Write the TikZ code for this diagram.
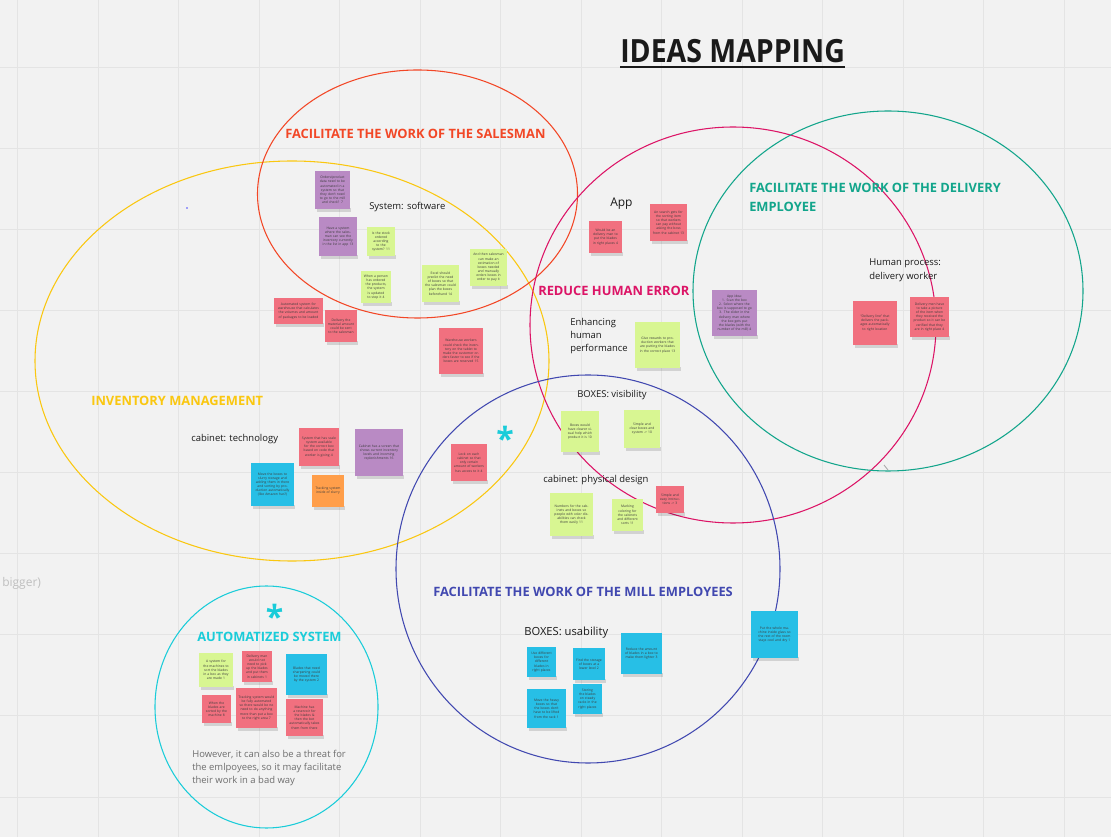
\documentclass[tikz,border=0pt]{standalone}
\usepackage{fontspec}
\setmainfont{Open Sans}
\usepackage{graphicx}
\usetikzlibrary{calc}
\definecolor{bg}{HTML}{F2F2F2}
\definecolor{gridc}{HTML}{E4E4E4}
\definecolor{ink}{HTML}{1A1A1A}
\definecolor{grayt}{HTML}{6E6E6E}
\definecolor{cred}{HTML}{F24726}
\definecolor{cyel}{HTML}{FAC710}
\definecolor{cmag}{HTML}{DC1466}
\definecolor{cteal}{HTML}{12A58B}
\definecolor{cblue}{HTML}{4148B0}
\definecolor{ccyan}{HTML}{1ACCD9}
\definecolor{spur}{HTML}{B98AC4}
\definecolor{sgrn}{HTML}{D8F692}
\definecolor{spnk}{HTML}{F1707F}
\definecolor{scyn}{HTML}{27BFE6}
\definecolor{sorg}{HTML}{FF9E4A}
\tikzset{
  ring/.style={line width=0.8pt},
  lbl/.style={font=\fontsize{9.65}{11}\selectfont\bfseries, inner sep=0pt, anchor=base west},
  body/.style={font=\fontsize{7.1}{9}\selectfont, text=ink, inner sep=0pt, anchor=base west},
  stxt/.style={font=\fontsize{2.5}{3.1}\selectfont, text=ink!85, align=center, inner sep=0pt},
  shade/.style={fill=black, opacity=0.13},
  astx/.style={inner sep=0pt, anchor=north, text=ccyan, font=\fontsize{24}{26}\selectfont\bfseries},
}
\newcommand\stk[7]{%
  \fill[shade] ({#2+2},{#5-1}) rectangle ({#4+1},{#5+3});
  \fill[#6] (#2,#3) rectangle (#4,#5);
  \pgfmathsetmacro\stkw{(#4-#2)*0.75-4}%
  \node[stxt, text width=\stkw pt] (#1) at ({(#2+#4)/2},{(#3+#5)/2}) {#7};
}
\newcommand\astglyph{\raisebox{-0.38em}[0.38em][0pt]{*}}
\begin{document}
\begin{tikzpicture}[x=0.75pt,y=-0.75pt]
\useasboundingbox (0,0) rectangle (1111,837);
\fill[bg] (0,0) rectangle (1111,837);
\foreach \k in {0,...,13} {\draw[gridc,line width=0.75pt] ({17.5+80.5*\k},0) -- ++(0,837);}
\foreach \k in {0,...,10} {\draw[gridc,line width=0.75pt] (0,{-13+81*\k}) -- ++(1111,0);}

% circles
\draw[ring,cyel] (292,361) ellipse [x radius=257, y radius=200];
\draw[ring,cred] (417.5,194) ellipse [x radius=160, y radius=124];
\draw[ring,cmag] (733,325) ellipse [x radius=203, y radius=198];
\draw[ring,cteal] (888,291) ellipse [x radius=195, y radius=180];
\draw[ring,cblue] (588,569) ellipse [x radius=192, y radius=194];
\draw[ring,ccyan] (266.5,707) ellipse [x radius=111.5, y radius=121];

% title
\node[inner sep=0pt, anchor=base west, font=\fontsize{24}{28}\selectfont\bfseries, text=ink] (title) at (620,63) {\scalebox{0.89}[1]{IDEAS MAPPING}};
\draw[ink,line width=1.5pt] ($(title.base west)+(0,4)$) -- ($(title.base east)+(0,4)$);

% group labels
\node[lbl,text=cred] (lsales) at (285,139) {FACILITATE THE WORK OF THE SALESMAN};
\node[lbl,text=cteal] (ldel1) at (749,193) {FACILITATE THE WORK OF THE DELIVERY};
\node[lbl,text=cteal] (ldel2) at (749,212) {EMPLOYEE};
\node[lbl,text=cmag] (lred) at (538,296) {REDUCE HUMAN ERROR};
\node[lbl,text=cyel] (linv) at (91,406) {INVENTORY MANAGEMENT};
\node[lbl,text=cblue] (lmill) at (433,597) {FACILITATE THE WORK OF THE MILL EMPLOYEES};
\node[lbl,text=ccyan] (lauto) at (197,642) {AUTOMATIZED SYSTEM};
\node[astx] (ast1) at (505,426) {\astglyph};
\node[astx] (ast2) at (274.5,604) {\astglyph};

% plain texts
\node[body] (tsoft) at (369,210) {System: software};
\node[body,font=\fontsize{9}{11}\selectfont] (tapp) at (610,207) {App};
\node[body] (thum1) at (869,266) {Human process:};
\node[body] (thum2) at (869,280) {delivery worker};
\node[body] (tenh1) at (570,326) {Enhancing};
\node[body] (tenh2) at (570,339) {human};
\node[body] (tenh3) at (570,352) {performance};
\node[body] (tboxv) at (577,398) {BOXES: visibility};
\node[body] (tcabt) at (191,442) {cabinet: technology};
\node[body] (tcabp) at (543,483) {cabinet: physical design};
\node[body,font=\fontsize{8.4}{10}\selectfont] (tboxu) at (524,636) {BOXES: usability};
\node[body,text=grayt] (thow1) at (192,757) {However, it can also be a threat for};
\node[body,text=grayt] (thow2) at (192,770) {the emlpoyees, so it may facilitate};
\node[body,text=grayt] (thow3) at (192,783) {their work in a bad way};
\node[body,text=black!25,font=\fontsize{9}{11}\selectfont] (tbig) at (2,587) {bigger)};
\fill[blue!70] (187,208) circle [radius=0.9];
\draw[black!35,line width=0.6pt] (884,465) -- (888,470);

% stickies: salesman
\stk{p1}{315}{171}{350}{209}{spur}{Orders/product data need to be automated in a system so that they don't need to go to the mill and check? 7}
\stk{p2}{319}{217}{357}{256}{spur}{Have a system where the salesman can see the inventory currently in the list in app 13}
\stk{g1}{367}{227}{395}{256}{sgrn}{Is the stock ordered according to the system? 11}
\stk{g2}{361}{271}{391}{303}{sgrn}{When a person has ordered the products, the system is updated to stop it 4}
\stk{g3}{422}{265}{459}{302}{sgrn}{Excel should predict the need of boxes so that the salesman could plan the boxes beforehand 14}
\stk{g4}{470}{249}{507}{286}{sgrn}{And then salesman can make an estimation of boxes needed and manually orders boxes in order to pay it}
\stk{r1}{274}{298}{323}{324}{spnk}{Automated system for warehouse that calculates the volumes and amount of packages to be loaded}
\stk{r2}{325}{310}{357}{342}{spnk}{Delivery the material amount could be sent to the salesman}
\stk{r3}{439}{328}{483}{374}{spnk}{Warehouse workers could check the inventory on the tablet to make the customer orders faster to see if the boxes are reserved 15}
% app
\stk{r4}{589}{221}{622}{253}{spnk}{Would be an delivery man to put the blades in right places 4}
\stk{r5}{650}{204}{687}{241}{spnk}{An search gets for the sorting item so that workers can pay without asking the boss from the cabinet 13}
% delivery
\stk{p3}{712}{290}{757}{336}{spur}{App idea:\\1. Scan the box\\2. Select where the box is supposed to go\\3. The slider in the delivery man where the box gets put the blades (with the number of the mill) 4}
\stk{r6}{853}{301}{897}{345}{spnk}{``Delivery line'' that delivers the packages automatically to right location}
\stk{r7}{910}{297}{949}{337}{spnk}{Delivery men have to take a picture of the item when they received the product so it can be verified that they are in right place 4}
% reduce human error
\stk{g5}{635}{322}{680}{368}{sgrn}{Give rewards to production workers that are putting the blades in the correct place 13}
\stk{g6}{561}{411}{599}{452}{sgrn}{Boxes would have clearer visual help which product it is 10}
\stk{g7}{624}{410}{660}{448}{sgrn}{Simple and clear boxes and system -> 10}
\stk{g8}{550}{493}{593}{536}{sgrn}{Numbers for the cabinets and boxes so people with color disabilities can check them easily 11}
\stk{g9}{612}{499}{643}{531}{sgrn}{Marking coloring for the cabinets and different sorts 11}
\stk{r8}{656}{486}{684}{513}{spnk}{Simple and easy instructions -> 3}
\stk{r9}{451}{444}{487}{481}{spnk}{Lock on each cabinet so that only certain amount of workers has access to it 4}
% inventory
\stk{r10}{299}{428}{339}{466}{spnk}{System that has scale system available for the correct box based on code that worker is giving 4}
\stk{p4}{355}{429}{403}{476}{spur}{Cabinet has a screen that shows current inventory levels and incoming replenishments 16}
\stk{c1}{251}{463}{294}{506}{scyn}{Move the boxes to slurry storage and adding them in there and sorting by production automatically (like Amazon has?)}
\stk{o1}{312}{475}{344}{507}{sorg}{Tracking system inside of slurry}
% mill
\stk{c2}{527}{647}{556}{677}{scyn}{Use different boxes for different blades in right places}
\stk{c3}{573}{648}{605}{680}{scyn}{Find the storage of boxes at a lower level 2}
\stk{c4}{621}{633}{662}{674}{scyn}{Reduce the amount of blades in a box to make them lighter 3}
\stk{c5}{527}{689}{566}{728}{scyn}{Move the heavy boxes so that the boxes don't have to be lifted from the rack 1}
\stk{c6}{573}{684}{602}{714}{scyn}{Storing the blades on steady racks in the right places}
\stk{c7}{751}{611}{798}{658}{scyn}{Put the whole machine inside glass so the rest of the room stays cool and dry 1}
% automatized
\stk{g10}{199}{653}{233}{687}{sgrn}{A system for the machines to sort the blades in a box as they are made 1}
\stk{r11}{242}{651}{272}{682}{spnk}{Delivery man would not need to pick up the blades and put them in cabinets 1}
\stk{c8}{286}{654}{327}{695}{scyn}{Blades that need sharpening could be moved there by the system 2}
\stk{r12}{202}{695}{231}{723}{spnk}{When the blades are sorted by the machine 8}
\stk{r13}{236}{688}{277}{728}{spnk}{Tracking system would be fully automated so there would be no need to do anything more than put a box to the right area 7}
\stk{r14}{286}{699}{323}{736}{spnk}{Machine has a reservoir for the blades \& then the bot automatically takes them from there}
\end{tikzpicture}
\end{document}
